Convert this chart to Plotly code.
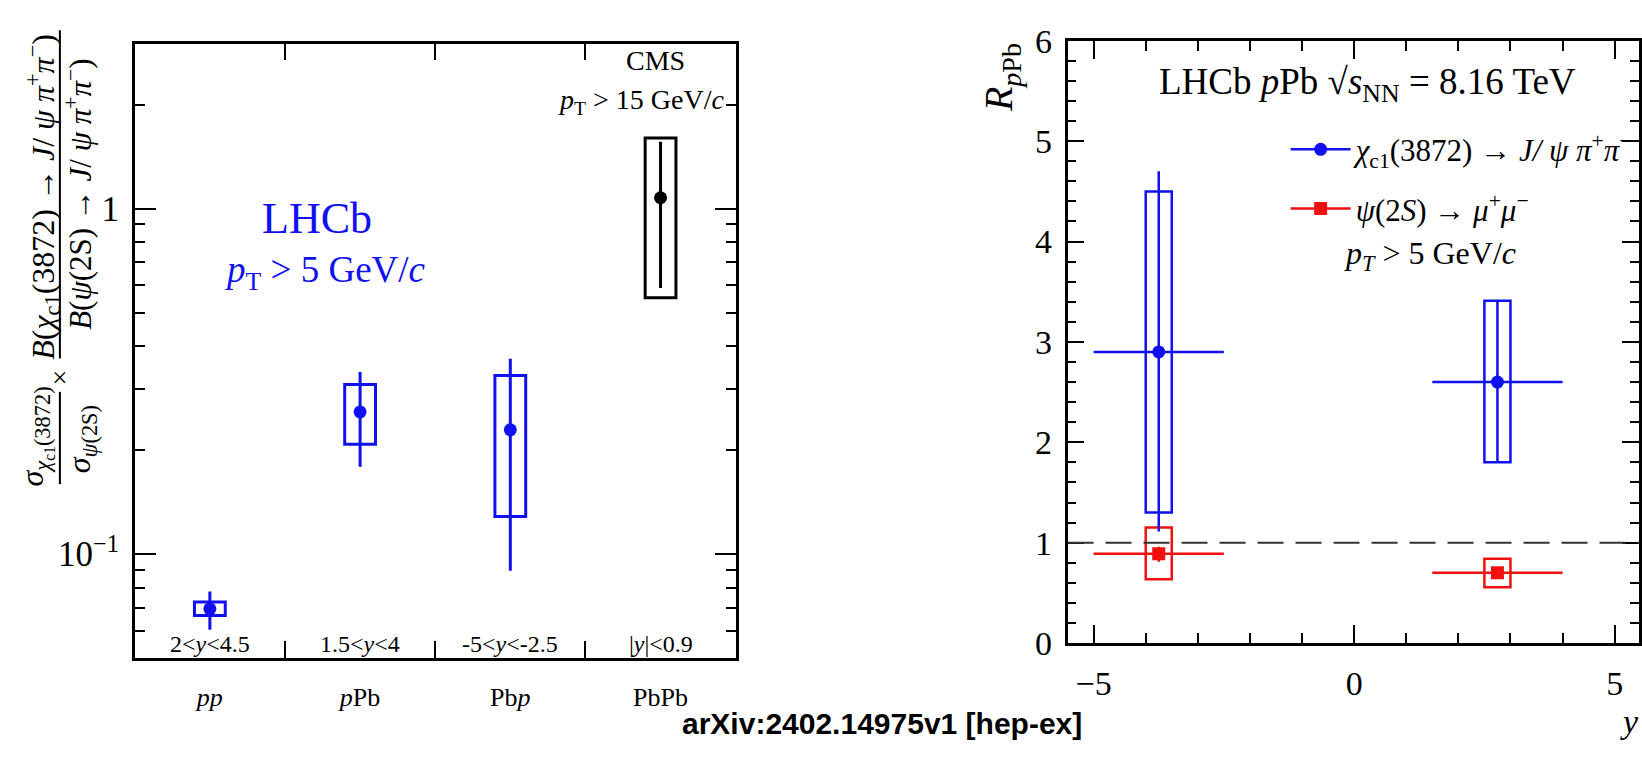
import numpy as np
import plotly.graph_objects as go

W, H = 1642, 760

# ---------------- Left panel data ----------------
systems = ["<i>pp</i>", "<i>p</i>Pb", "Pb<i>p</i>", "PbPb"]
rap_ranges = ["2&lt;<i>y</i>&lt;4.5", "1.5&lt;<i>y</i>&lt;4", "-5&lt;<i>y</i>&lt;-2.5", "|<i>y</i>|&lt;0.9"]
ratio_val = [0.0695, 0.258, 0.229, 1.075]
ratio_stat_hi = [0.078, 0.337, 0.368, 1.56]
ratio_stat_lo = [0.0605, 0.179, 0.0895, 0.589]
ratio_syst_hi = [0.0727, 0.310, 0.329, 1.60]
ratio_syst_lo = [0.0665, 0.208, 0.1285, 0.552]
experiment = ["LHCb", "LHCb", "LHCb", "CMS"]

# ---------------- Right panel data ----------------
rap_center = [-3.75, 2.75]
rap_halfwidth = [1.25, 1.25]
x3872_val = [2.90, 2.60]
x3872_stat_hi = [4.70, 3.40]
x3872_stat_lo = [1.11, 1.80]
x3872_syst_hi = [4.50, 3.41]
x3872_syst_lo = [1.30, 1.80]
psi2s_val = [0.89, 0.70]
psi2s_stat_hi = [0.96, 0.73]
psi2s_stat_lo = [0.81, 0.67]
psi2s_syst_hi = [1.15, 0.84]
psi2s_syst_lo = [0.635, 0.555]
unity = 1.0

BLUE = "#1010f0"
RED = "#f01010"
BLACK = "#000000"
SERIF = "Liberation Serif, Times New Roman, serif"

fig = go.Figure()

# left panel boxes + points
idx_cat = np.arange(len(systems))
for exp_name, col in [("LHCb", BLUE), ("CMS", BLACK)]:
    sel = [i for i, e in enumerate(experiment) if e == exp_name]
    xs = [float(idx_cat[i]) for i in sel]
    v = np.array([ratio_val[i] for i in sel])
    sh = np.array([ratio_syst_hi[i] for i in sel])
    sl = np.array([ratio_syst_lo[i] for i in sel])
    th = np.array([ratio_stat_hi[i] for i in sel])
    tl = np.array([ratio_stat_lo[i] for i in sel])
    fig.add_trace(go.Bar(x=xs, y=sh - sl, base=sl, width=0.205,
                         marker=dict(color="rgba(0,0,0,0)", line=dict(color=col, width=3)),
                         xaxis="x", yaxis="y", showlegend=False, hoverinfo="skip"))
    fig.add_trace(go.Scatter(x=xs, y=v, mode="markers",
                             marker=dict(size=13, color=col),
                             error_y=dict(type="data", symmetric=False, array=th - v,
                                          arrayminus=v - tl, width=0, thickness=3, color=col),
                             xaxis="x", yaxis="y", showlegend=False))

# right panel boxes + points
for val, sh, sl, th, tl, col, sym in [
    (x3872_val, x3872_syst_hi, x3872_syst_lo, x3872_stat_hi, x3872_stat_lo, BLUE, "circle"),
    (psi2s_val, psi2s_syst_hi, psi2s_syst_lo, psi2s_stat_hi, psi2s_stat_lo, RED, "square"),
]:
    v = np.array(val); sh = np.array(sh); sl = np.array(sl); th = np.array(th); tl = np.array(tl)
    fig.add_trace(go.Bar(x=rap_center, y=sh - sl, base=sl, width=0.5,
                         marker=dict(color="rgba(0,0,0,0)", line=dict(color=col, width=2.5)),
                         xaxis="x2", yaxis="y2", showlegend=False, hoverinfo="skip"))
    fig.add_trace(go.Scatter(x=rap_center, y=v, mode="markers",
                             marker=dict(size=13, color=col, symbol=sym),
                             error_y=dict(type="data", symmetric=False, array=th - v,
                                          arrayminus=v - tl, width=0, thickness=2.5, color=col),
                             error_x=dict(type="data", array=rap_halfwidth, width=0,
                                          thickness=2.5, color=col),
                             xaxis="x2", yaxis="y2", showlegend=False))

# legend entries
fig.add_trace(go.Scatter(x=[None], y=[None], mode="lines+markers",
                         name="<i>χ</i><sub>c1</sub>(3872) → <i>J/ ψ</i> <i>π</i><sup>+</sup><i>π</i><sup>−</sup>",
                         line=dict(color=BLUE, width=2.5), marker=dict(size=13, color=BLUE),
                         xaxis="x2", yaxis="y2", legendgroup="a"))
fig.add_trace(go.Scatter(x=[None], y=[None], mode="lines+markers",
                         name="<i>ψ</i>(2<i>S</i>) → <i>μ</i><sup>+</sup><i>μ</i><sup>−</sup>",
                         line=dict(color=RED, width=2.5), marker=dict(size=13, color=RED, symbol="square"),
                         xaxis="x2", yaxis="y2", legendgroup="b"))

def px(xp):
    return xp / W

def py(yp):
    return 1 - yp / H

axis_common = dict(showgrid=False, zeroline=False, showline=True, linecolor="black",
                   linewidth=2.5, mirror="ticks", tickcolor="black", tickwidth=2)

left_minor_vals = [0.06, 0.07, 0.08, 0.09, 0.2, 0.3, 0.4, 0.5, 0.6, 0.7, 0.8, 0.9, 2, 3]

fig.update_layout(
    width=W, height=H, margin=dict(l=0, r=0, t=0, b=0),
    paper_bgcolor="white", plot_bgcolor="white", barmode="overlay",
    font=dict(family=SERIF, color="black"),
    xaxis=dict(**axis_common, domain=[px(135), px(737)], range=[-0.5, 3.5],
               tickmode="array", tickvals=list(idx_cat), ticktext=systems,
               ticks="inside", ticklen=0, ticklabelstandoff=14,
               tickfont=dict(size=26, family=SERIF),
               minor=dict(tickmode="array", tickvals=[0.5, 1.5, 2.5], ticks="inside",
                          ticklen=17, tickwidth=2, tickcolor="black")),
    yaxis=dict(**axis_common, domain=[py(673), py(27)], type="log",
               range=[np.log10(0.05), np.log10(3)],
               tickmode="array", tickvals=[0.1, 1], ticktext=["10<sup>−1</sup>", "1"],
               ticks="inside", ticklen=21, tickfont=dict(size=35, family=SERIF),
               ticklabelstandoff=6,
               minor=dict(tickmode="array", tickvals=left_minor_vals, ticks="inside",
                          ticklen=10, tickwidth=2, tickcolor="black")),
    xaxis2=dict(**axis_common, domain=[px(1069.5), 1.0], range=[-5.5, 5.467],
                tickmode="array", tickvals=[-5, 0, 5], ticks="inside", ticklen=18,
                tickfont=dict(size=34, family=SERIF), ticklabelstandoff=8,
                minor=dict(dtick=1, tick0=0, ticks="inside", ticklen=10, tickwidth=2,
                           tickcolor="black"), anchor="y2"),
    yaxis2=dict(**axis_common, domain=[py(657), py(24)], range=[0, 6],
                tickmode="array", tickvals=[0, 1, 2, 3, 4, 5, 6], ticks="inside", ticklen=17,
                tickfont=dict(size=34, family=SERIF), ticklabelstandoff=6,
                minor=dict(dtick=0.2, tick0=0, ticks="inside", ticklen=9, tickwidth=2,
                           tickcolor="black"), anchor="x2"),
    legend=dict(x=px(1288), y=py(110), xanchor="left", yanchor="top",
                bgcolor="rgba(0,0,0,0)", font=dict(size=31, family=SERIF),
                tracegroupgap=16, itemwidth=60),
    shapes=[
        dict(type="line", xref="x2 domain", x0=0, x1=1, yref="y2", y0=unity, y1=unity,
             line=dict(color="#333333", width=2, dash="26px,12px")),
        dict(type="line", xref="paper", yref="paper", x0=px(60), x1=px(60), y0=py(13), y1=py(358),
             line=dict(color="black", width=2)),
        dict(type="line", xref="paper", yref="paper", x0=px(60), x1=px(60), y0=py(393), y1=py(490),
             line=dict(color="black", width=2)),
    ],
)

ann = []
def add(text, x, y, size, color="black", xref="paper", yref="paper", angle=0,
        xanchor="center", family=SERIF):
    ann.append(dict(text=text, x=x, y=y, xref=xref, yref=yref, showarrow=False,
                    font=dict(size=size, color=color, family=family), textangle=angle,
                    xanchor=xanchor, yanchor="middle"))

# rapidity labels in left panel
for i, t in enumerate(rap_ranges):
    add(t, float(idx_cat[i]), py(658), 24, xref="x")

add("CMS", px(657), py(45), 28)
add("<i>p</i><sub>T</sub> &gt; 15 GeV/<i>c</i>", px(727), py(88), 28, xanchor="right")
add("LHCb", px(318), py(211), 44, color=BLUE)
add("<i>p</i><sub>T</sub> &gt; 5 GeV/<i>c</i>", px(326), py(267), 37, color=BLUE)

# left y title (rotated fractions)
add("<i>B</i>(<i>χ</i><sub>c1</sub>(3872) → <i>J</i>/ <i>ψ π</i><sup>+</sup><i>π</i><sup>−</sup>)",
    px(43), py(188), 32, angle=-90)
add("<i>B</i>(<i>ψ</i>(2S) → <i>J</i>/ <i>ψ π</i><sup>+</sup><i>π</i><sup>−</sup>)",
    px(79), py(185), 31, angle=-90)
add("×", px(60), py(378), 28, angle=-90)
add("<i>σ</i><sub><i>χ</i><sub>c1</sub>(3872)</sub>", px(36), py(440), 32, angle=-90)
add("<i>σ</i><sub><i>ψ</i>(2S)</sub>", px(82), py(443), 32, angle=-90)

# right panel texts
add("<i>R</i><sub><i>p</i>Pb</sub>", px(1003), py(63), 40, angle=-90)
add("LHCb <i>p</i>Pb √<i>s</i><sub>NN</sub> = 8.16 TeV", px(1370), py(70), 37)
add("<i>p<sub>T</sub></i> &gt; 5 GeV/<i>c</i>", px(1433), py(250), 32)
add("<i>y</i>", px(1632), py(740), 34)

add("<b>arXiv:2402.14975v1 [hep-ex]</b>", px(884), py(742), 30, family="Liberation Sans")

fig.update_layout(annotations=ann)
fig.write_html("out.html")
